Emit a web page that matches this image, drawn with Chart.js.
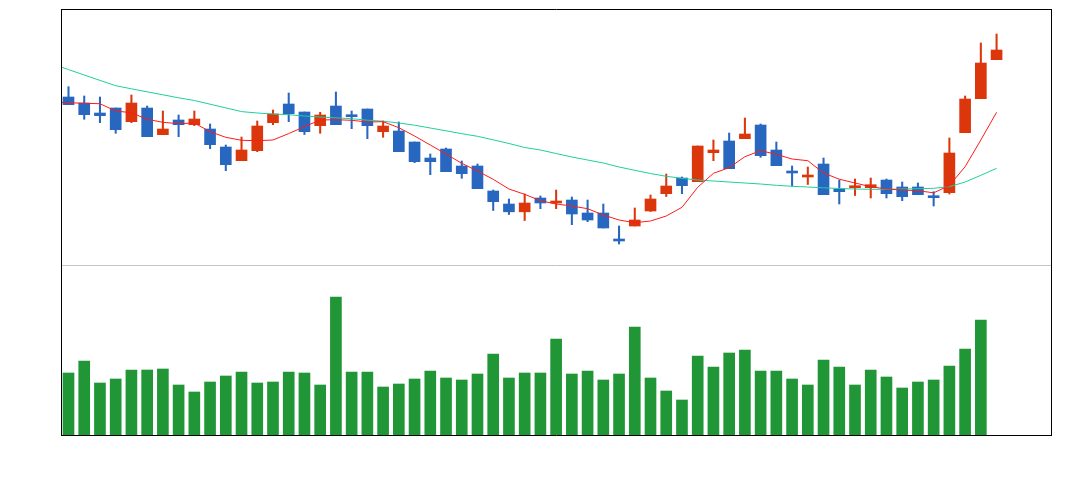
<!DOCTYPE html>
<html>
<head>
<meta charset="utf-8">
<script src="https://cdn.jsdelivr.net/npm/chart.js@4.4.1/dist/chart.umd.min.js"></script>
<style>
  html, body { margin: 0; padding: 0; background: #fff; }
  #wrap { position: relative; width: 1083px; height: 480px; }
  #price { position: absolute; left: 0; top: 0; }
  #vol { position: absolute; left: 0; top: 265px; }
</style>
</head>
<body>
<div id="wrap">
  <canvas id="price" width="1083" height="265"></canvas>
  <canvas id="vol" width="1083" height="215"></canvas>
</div>
<script>
// daily OHLC, 60 sessions (no axis labels in the source picture)
const open  = [26.8, 26.2, 25.2, 25.7, 24.33, 25.7, 23.03, 24.5, 24.03, 23.6, 21.8, 20.43, 21.43, 24.23, 26.1, 25.3, 23.93, 25.9, 25.03, 25.6,
               23.33, 23.4, 22.3, 20.7, 21.6, 19.9, 19.9, 17.4, 16.1, 15.32, 16.7, 16.2, 16.5, 15.2, 15.2, 12.6, 13.9, 15.4, 17.13, 18.7,
               18.33, 21.23, 22.4, 22.63, 24.0, 21.5, 19.4, 18.8, 20.1, 17.6, 17.73, 17.73, 18.5, 17.8, 17.8, 16.93, 17.23, 23.23, 26.63, 30.53];
const high  = [27.83, 26.9, 26.8, 25.7, 27.0, 25.9, 25.4, 25.0, 25.4, 24.1, 22.0, 22.8, 24.4, 25.5, 27.2, 25.3, 25.27, 27.3, 25.4, 25.6,
               24.4, 24.3, 22.3, 21.1, 21.7, 20.4, 20.1, 17.5, 16.6, 17.1, 16.9, 17.5, 16.8, 16.5, 16.1, 13.9, 15.7, 17.0, 19.1, 18.8,
               21.9, 22.5, 23.2, 24.7, 24.1, 22.3, 19.9, 19.8, 20.7, 18.5, 18.6, 18.7, 18.6, 18.3, 18.2, 17.33, 22.7, 26.9, 32.2, 33.1];
const low   = [26.03, 24.57, 24.23, 23.17, 24.23, 22.83, 23.03, 22.83, 23.93, 21.63, 19.43, 20.43, 21.33, 24.03, 24.33, 23.05, 23.17, 24.03, 23.63, 22.63,
               22.77, 21.33, 20.23, 19.03, 19.33, 18.67, 17.63, 15.45, 15.05, 14.45, 15.63, 15.63, 14.03, 14.33, 13.7, 12.1, 13.9, 15.35, 16.85, 17.13,
               18.33, 20.43, 19.63, 22.63, 20.77, 19.93, 17.9, 18.05, 17.03, 16.1, 16.95, 16.7, 16.7, 16.43, 17.03, 15.9, 17.1, 23.23, 26.63, 30.53];
const close = [26.03, 25.03, 24.93, 23.53, 26.2, 22.83, 23.6, 24.03, 24.6, 22.03, 20.03, 21.5, 23.9, 25.1, 25.13, 23.33, 25.0, 24.03, 24.83, 23.93,
               23.9, 21.33, 20.33, 20.33, 19.33, 19.13, 17.63, 16.33, 15.32, 16.2, 16.2, 16.4, 15.1, 14.5, 13.7, 12.4, 14.5, 16.6, 17.9, 17.93,
               21.9, 21.5, 19.63, 23.1, 20.93, 19.93, 19.2, 19.0, 17.03, 17.33, 17.93, 18.03, 17.13, 16.83, 17.03, 16.73, 21.2, 26.6, 30.2, 31.5];

// volume in thousands (last session has none)
const volume = [62, 74, 52, 56, 65, 65, 66, 50, 43, 53, 59, 63, 52, 53, 63, 62, 50, 138, 63, 63,
                48, 51, 56, 64, 57, 55, 61, 81, 57, 62, 62, 96, 61, 64, 55, 61, 108, 57, 44, 35,
                79, 68, 82, 85, 64, 64, 56, 50, 75, 68, 50, 65, 58, 47, 53, 55, 69, 86, 115];

// moving averages, first value is the session before the window
const maShort = [26.27, 26.23, 26.17, 26.13, 25.4, 25.23, 24.57, 24.27, 24.13, 24.2, 23.33, 22.77, 22.47, 22.43, 22.5, 23.14, 23.83, 24.5, 24.53, 24.47,
                 24.3, 24.33, 23.73, 22.9, 22.0, 21.1, 20.17, 19.4, 18.57, 17.6, 17.07, 16.43, 16.1, 15.9, 15.63, 15.0, 14.5, 14.23, 14.4, 14.9,
                 15.77, 17.77, 19.17, 19.73, 20.83, 21.43, 21.07, 20.6, 20.43, 19.2, 18.58, 18.2, 17.83, 17.6, 17.5, 17.43, 17.22, 17.95, 19.83, 22.5, 25.27];
const maLong  = [30.08, 29.54, 29.0, 28.46, 27.93, 27.62, 27.32, 27.02, 26.72, 26.45, 26.08, 25.71, 25.34, 25.2, 25.1, 25.03, 24.9, 24.8, 24.72, 24.63,
                 24.48, 24.38, 24.2, 23.98, 23.7, 23.42, 23.13, 22.87, 22.52, 22.15, 21.75, 21.5, 21.15, 20.8, 20.5, 20.2, 19.8, 19.47, 19.15, 18.87,
                 18.67, 18.5, 18.4, 18.3, 18.2, 18.1, 17.97, 17.87, 17.8, 17.72, 17.65, 17.6, 17.57, 17.57, 17.6, 17.63, 17.67, 17.83, 18.3, 18.97, 19.67];

const UP = '#dc370c';
const DOWN = '#2867c0';
const VOL = '#219636';

const candleColors = open.map((o, i) => close[i] >= o ? UP : DOWN);

// draws the black frame and the grey split line
const framePlugin = {
    id: 'frame',
    afterDraw(chart, args, opts) {
        const { ctx, chartArea: a } = chart;
        ctx.save();
        ctx.lineWidth = 1;
        const seg = (x1, y1, x2, y2, color) => {
            ctx.strokeStyle = color;
            ctx.beginPath();
            ctx.moveTo(x1, y1);
            ctx.lineTo(x2, y2);
            ctx.stroke();
        };
        const L = a.left - 0.5, R = a.right + 0.5;
        if (opts.top) seg(L, a.top + 0.5, R, a.top + 0.5, opts.top);
        if (opts.split) seg(L, a.top + 0.5, R, a.top + 0.5, opts.split);
        if (opts.bottom) seg(L, a.bottom + 0.5, R, a.bottom + 0.5, opts.bottom);
        seg(L, a.top, L, a.bottom + 1, '#000');
        seg(R, a.top, R, a.bottom + 1, '#000');
        ctx.restore();
    }
};

const xScale = { type: 'linear', min: -0.413, max: 62.46, offset: false, display: false };
const common = {
    responsive: false,
    animation: false,
    events: [],
    plugins: { legend: { display: false }, tooltip: { enabled: false } }
};

new Chart(document.getElementById('price'), {
    type: 'bar',
    plugins: [framePlugin],
    data: {
        datasets: [
            {
                type: 'line',
                data: maShort.map((v, i) => ({ x: i - 1, y: v })),
                borderColor: '#ff1a1a',
                borderWidth: 1,
                pointRadius: 0,
                tension: 0,
                order: 0
            },
            {
                type: 'line',
                data: maLong.map((v, i) => ({ x: i - 1, y: v })),
                borderColor: '#1fcf9c',
                borderWidth: 1,
                pointRadius: 0,
                tension: 0,
                order: 0
            },
            {
                // bodies
                data: open.map((o, i) => ({ x: i, y: [o, close[i]] })),
                backgroundColor: candleColors,
                barThickness: 11,
                grouped: false,
                order: 1
            },
            {
                // wicks
                data: high.map((h, i) => ({ x: i, y: [low[i], h] })),
                backgroundColor: candleColors,
                barThickness: 1.4,
                grouped: false,
                order: 2
            }
        ]
    },
    options: {
        ...common,
        layout: { padding: { left: 62, right: 32, top: 9, bottom: 0 } },
        plugins: { ...common.plugins, frame: { top: '#000' } },
        scales: {
            x: xScale,
            y: { type: 'linear', min: 10, max: 35.6, display: false }
        }
    }
});

new Chart(document.getElementById('vol'), {
    type: 'bar',
    plugins: [framePlugin],
    data: {
        datasets: [{
            data: volume.map((v, i) => ({ x: i, y: v * 1000 })),
            backgroundColor: VOL,
            barThickness: 11
        }]
    },
    options: {
        ...common,
        layout: { padding: { left: 62, right: 32, top: 0, bottom: 45 } },
        plugins: { ...common.plugins, frame: { split: '#c4c4c4', bottom: '#000' } },
        scales: {
            x: xScale,
            y: { type: 'linear', min: 0, max: 170000, display: false }
        }
    }
});
</script>
</body>
</html>
